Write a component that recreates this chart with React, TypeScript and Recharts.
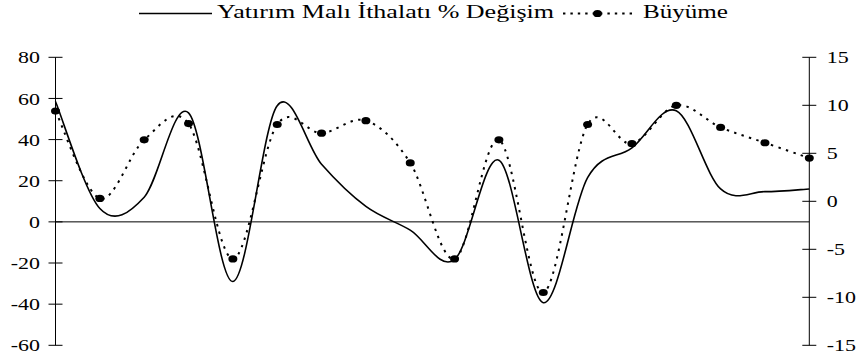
import React from 'react';
import { LineChart, Line, XAxis, YAxis, ReferenceLine, Legend } from 'recharts';

const years = ['1990', '1991', '1992', '1993', '1994', '1995', '1996', '1997', '1998', '1999', '2000', '2001', '2002', '2003', '2004', '2005', '2006', '2007'];
const ithalat = [58.5, 6.5, 12, 53, -29, 56.5, 28, 7.5, -4, -18.3, 30, -39.3, 21.5, 36, 54, 16, 14.7, 16];
const buyume = [9.4, 0.3, 6.4, 8.1, -6.0, 8.0, 7.1, 8.4, 4.0, -6.0, 6.4, -9.5, 8.0, 6.0, 10.0, 7.7, 6.1, 4.5];
const leftTicks = [-60, -40, -20, 0, 20, 40, 60, 80];
const rightTicks = [-15, -10, -5, 0, 5, 10, 15];
const seriesNames = ['Yatırım Malı İthalatı % Değişim', 'Büyüme'];

const data = years.map((year, i) => ({ year, ithalat: ithalat[i], buyume: buyume[i] }));

const FONT = '"Liberation Serif", "Times New Roman", serif';
const SX = 1.29;
const DASH = '2.4 5.4';

// Excel-like smoothing (Catmull-Rom Bezier) as a d3 curve factory
function excelSmooth(context: any) {
  let pts: number[][] = [];
  return {
    areaStart() {},
    areaEnd() {},
    lineStart() {
      pts = [];
    },
    point(x: number, y: number) {
      pts.push([+x, +y]);
    },
    lineEnd() {
      const n = pts.length;
      if (!n) return;
      context.moveTo(pts[0][0], pts[0][1]);
      const t = 1 / 6;
      for (let i = 0; i < n - 1; i++) {
        const p0 = pts[Math.max(i - 1, 0)];
        const p1 = pts[i];
        const p2 = pts[i + 1];
        const p3 = pts[Math.min(i + 2, n - 1)];
        context.bezierCurveTo(
          p1[0] + (p2[0] - p0[0]) * t,
          p1[1] + (p2[1] - p0[1]) * t,
          p2[0] - (p3[0] - p1[0]) * t,
          p2[1] - (p3[1] - p1[1]) * t,
          p2[0],
          p2[1]
        );
      }
    },
  };
}

const LeftTick = (props: any) => {
  const { x, y, payload } = props;
  return (
    <g>
      <line x1={x - 7} x2={x + 7} y1={y} y2={y} stroke="#000" strokeWidth={1} />
      <text
        transform={`translate(${x - 15.5},${y}) scale(${SX},1)`}
        textAnchor="end"
        dy="0.36em"
        fontFamily={FONT}
        fontSize={17}
        fill="#000"
      >
        {payload.value}
      </text>
    </g>
  );
};

const RightTick = (props: any) => {
  const { x, y, payload } = props;
  return (
    <g>
      <line x1={x - 7} x2={x + 7} y1={y} y2={y} stroke="#000" strokeWidth={1} />
      <text
        transform={`translate(${x + 17.5},${y}) scale(${SX},1)`}
        textAnchor="start"
        dy="0.36em"
        fontFamily={FONT}
        fontSize={17}
        fill="#000"
      >
        {payload.value}
      </text>
    </g>
  );
};

const Marker = (props: any) => {
  const { cx, cy, index } = props;
  if (cx == null || cy == null) return <g key={`m${index}`} />;
  return <ellipse key={`m${index}`} cx={cx} cy={cy} rx={4.5} ry={3.6} fill="#000" />;
};

const LegendContent = () => (
  <svg width={860} height={28} style={{ display: 'block' }}>
    <line x1={139} x2={212} y1={13.5} y2={13.5} stroke="#000" strokeWidth={1.5} />
    <text
      x={217}
      y={17.8}
      fontFamily={FONT}
      fontSize={19.5}
      textLength={337}
      lengthAdjust="spacingAndGlyphs"
      fill="#000"
    >
      {seriesNames[0]}
    </text>
    <line x1={563} x2={632} y1={13.5} y2={13.5} stroke="#000" strokeWidth={2} strokeDasharray="2.4 5" />
    <ellipse cx={597.5} cy={13.5} rx={4.5} ry={3.6} fill="#000" />
    <text
      x={643}
      y={17.8}
      fontFamily={FONT}
      fontSize={19.5}
      textLength={85}
      lengthAdjust="spacingAndGlyphs"
      fill="#000"
    >
      {seriesNames[1]}
    </text>
  </svg>
);

export default function App() {
  return (
    <div style={{ position: 'absolute', left: 0, top: 0, width: 860, height: 362, background: '#fff' }}>
      <LineChart
        width={860}
        height={362}
        data={data}
        margin={{ top: 29.3, right: 10, bottom: 16.7, left: 10.5 }}
      >
        <Legend
          verticalAlign="top"
          align="left"
          content={<LegendContent />}
          wrapperStyle={{ left: 0, top: 0, width: 860, height: 28 }}
        />
        <XAxis dataKey="year" hide />
        <YAxis
          yAxisId="left"
          orientation="left"
          width={45}
          domain={[-60, 80]}
          ticks={leftTicks}
          interval={0}
          tickSize={0}
          tickMargin={0}
          tickLine={false}
          axisLine={{ stroke: '#000', strokeWidth: 1 }}
          tick={<LeftTick />}
        />
        <YAxis
          yAxisId="right"
          orientation="right"
          width={40.7}
          domain={[-15, 15]}
          ticks={rightTicks}
          interval={0}
          tickSize={0}
          tickMargin={0}
          tickLine={false}
          axisLine={{ stroke: '#000', strokeWidth: 1 }}
          tick={<RightTick />}
        />
        <ReferenceLine yAxisId="left" y={0} stroke="#000" strokeWidth={1} />
        <Line
          yAxisId="left"
          dataKey="ithalat"
          name={seriesNames[0]}
          type={excelSmooth as any}
          stroke="#000"
          strokeWidth={1.6}
          dot={false}
          activeDot={false}
          isAnimationActive={false}
        />
        <Line
          yAxisId="right"
          dataKey="buyume"
          name={seriesNames[1]}
          type={excelSmooth as any}
          stroke="#000"
          strokeWidth={2}
          strokeDasharray={DASH}
          dot={Marker}
          activeDot={false}
          isAnimationActive={false}
        />
      </LineChart>
    </div>
  );
}
